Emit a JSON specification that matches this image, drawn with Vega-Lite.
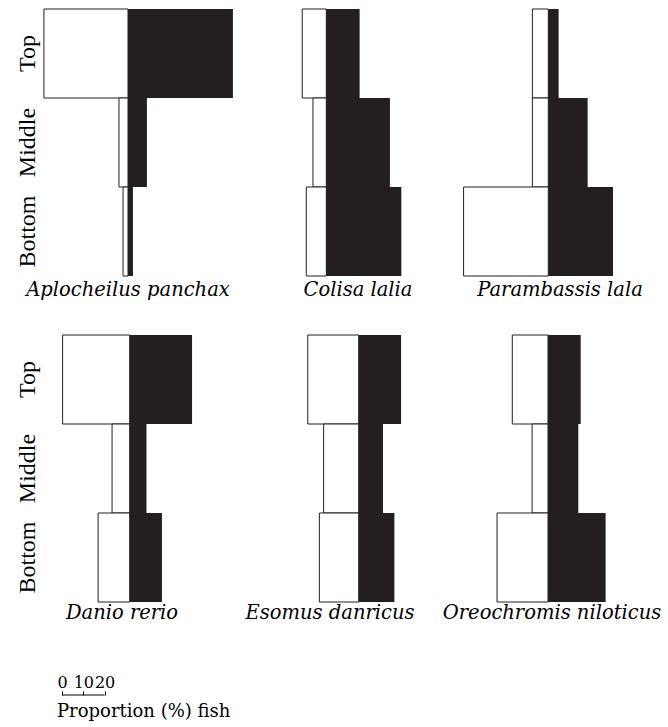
{
  "$schema": "https://vega.github.io/schema/vega-lite/v6.json",
  "padding": {"left": 14, "top": 8, "right": 2, "bottom": 2},
  "config": {
    "view": {"stroke": null},
    "title": {"font": "DejaVu Serif", "fontSize": 19.5, "fontStyle": "italic", "fontWeight": "normal", "color": "black", "offset": 4}
  },
  "datasets": {
    "fish": [
      {"species": "Aplocheilus panchax", "depth": "Top", "group": "A", "value": 39.1},
      {"species": "Aplocheilus panchax", "depth": "Top", "group": "B", "value": 48.8},
      {"species": "Aplocheilus panchax", "depth": "Middle", "group": "A", "value": 4.2},
      {"species": "Aplocheilus panchax", "depth": "Middle", "group": "B", "value": 8.8},
      {"species": "Aplocheilus panchax", "depth": "Bottom", "group": "A", "value": 2.3},
      {"species": "Aplocheilus panchax", "depth": "Bottom", "group": "B", "value": 2.3},
      {"species": "Colisa lalia", "depth": "Top", "group": "A", "value": 11.2},
      {"species": "Colisa lalia", "depth": "Top", "group": "B", "value": 15.5},
      {"species": "Colisa lalia", "depth": "Middle", "group": "A", "value": 6.2},
      {"species": "Colisa lalia", "depth": "Middle", "group": "B", "value": 29.6},
      {"species": "Colisa lalia", "depth": "Bottom", "group": "A", "value": 9.3},
      {"species": "Colisa lalia", "depth": "Bottom", "group": "B", "value": 34.9},
      {"species": "Parambassis lala", "depth": "Top", "group": "A", "value": 7.4},
      {"species": "Parambassis lala", "depth": "Top", "group": "B", "value": 4.8},
      {"species": "Parambassis lala", "depth": "Middle", "group": "A", "value": 7.4},
      {"species": "Parambassis lala", "depth": "Middle", "group": "B", "value": 18.3},
      {"species": "Parambassis lala", "depth": "Bottom", "group": "A", "value": 39.4},
      {"species": "Parambassis lala", "depth": "Bottom", "group": "B", "value": 30.1},
      {"species": "Danio rerio", "depth": "Top", "group": "A", "value": 31.2},
      {"species": "Danio rerio", "depth": "Top", "group": "B", "value": 29.0},
      {"species": "Danio rerio", "depth": "Middle", "group": "A", "value": 8.2},
      {"species": "Danio rerio", "depth": "Middle", "group": "B", "value": 7.8},
      {"species": "Danio rerio", "depth": "Bottom", "group": "A", "value": 14.7},
      {"species": "Danio rerio", "depth": "Bottom", "group": "B", "value": 15.0},
      {"species": "Esomus danricus", "depth": "Top", "group": "A", "value": 23.7},
      {"species": "Esomus danricus", "depth": "Top", "group": "B", "value": 19.7},
      {"species": "Esomus danricus", "depth": "Middle", "group": "A", "value": 16.3},
      {"species": "Esomus danricus", "depth": "Middle", "group": "B", "value": 11.3},
      {"species": "Esomus danricus", "depth": "Bottom", "group": "A", "value": 18.3},
      {"species": "Esomus danricus", "depth": "Bottom", "group": "B", "value": 16.6},
      {"species": "Oreochromis niloticus", "depth": "Top", "group": "A", "value": 16.6},
      {"species": "Oreochromis niloticus", "depth": "Top", "group": "B", "value": 15.2},
      {"species": "Oreochromis niloticus", "depth": "Middle", "group": "A", "value": 7.4},
      {"species": "Oreochromis niloticus", "depth": "Middle", "group": "B", "value": 14.1},
      {"species": "Oreochromis niloticus", "depth": "Bottom", "group": "A", "value": 23.7},
      {"species": "Oreochromis niloticus", "depth": "Bottom", "group": "B", "value": 26.8}
    ]
  },
  "spacing": 52,
  "vconcat": [
    {
      "data": {"name": "fish"},
      "spacing": 35,
      "vconcat": [
        {
          "spacing": 0,
          "hconcat": [
            {
              "width": 204, "height": 267,
              "title": {"text": "Aplocheilus panchax", "orient": "bottom", "dx": -12},
              "transform": [{"filter": "datum.species === 'Aplocheilus panchax'"}],
              "encoding": {"y": {"field": "depth", "type": "nominal", "sort": ["Top", "Middle", "Bottom"], "scale": {"paddingInner": 0, "paddingOuter": 0},
                "axis": {"title": null, "domain": false, "ticks": false, "labelAngle": -90, "labelAlign": "center", "labelBaseline": "alphabetic", "labelPadding": 4, "labelFontSize": 24, "labelFont": "Times", "labelColor": "black"}}},
              "layer": [
                {"transform": [{"filter": "datum.group === 'A'"}], "mark": {"type": "bar", "fill": "white", "stroke": "#231f20", "strokeWidth": 1},
                 "encoding": {"x": {"field": "value", "type": "quantitative", "scale": {"domain": [0, 100], "range": [90, -125], "nice": false}, "axis": null}, "x2": {"datum": 0}}},
                {"transform": [{"filter": "datum.group === 'B'"}], "mark": {"type": "bar", "fill": "#231f20"},
                 "encoding": {"x": {"field": "value", "type": "quantitative", "scale": {"domain": [0, 100], "range": [90, 305], "nice": false}, "axis": null}, "x2": {"datum": 0}}}
              ],
              "resolve": {"scale": {"x": "independent"}}
            },
            {
              "width": 200, "height": 267,
              "title": {"text": "Colisa lalia", "orient": "bottom", "dx": 16},
              "transform": [{"filter": "datum.species === 'Colisa lalia'"}],
              "encoding": {"y": {"field": "depth", "type": "nominal", "sort": ["Top", "Middle", "Bottom"], "scale": {"paddingInner": 0, "paddingOuter": 0}, "axis": null}},
              "layer": [
                {"transform": [{"filter": "datum.group === 'A'"}], "mark": {"type": "bar", "fill": "white", "stroke": "#231f20", "strokeWidth": 1},
                 "encoding": {"x": {"field": "value", "type": "quantitative", "scale": {"domain": [0, 100], "range": [84.3, -130.7], "nice": false}, "axis": null}, "x2": {"datum": 0}}},
                {"transform": [{"filter": "datum.group === 'B'"}], "mark": {"type": "bar", "fill": "#231f20"},
                 "encoding": {"x": {"field": "value", "type": "quantitative", "scale": {"domain": [0, 100], "range": [84.3, 299.3], "nice": false}, "axis": null}, "x2": {"datum": 0}}}
              ],
              "resolve": {"scale": {"x": "independent"}}
            },
            {
              "width": 220, "height": 267,
              "title": {"text": "Parambassis lala", "orient": "bottom", "dx": 8},
              "transform": [{"filter": "datum.species === 'Parambassis lala'"}],
              "encoding": {"y": {"field": "depth", "type": "nominal", "sort": ["Top", "Middle", "Bottom"], "scale": {"paddingInner": 0, "paddingOuter": 0}, "axis": null}},
              "layer": [
                {"transform": [{"filter": "datum.group === 'A'"}], "mark": {"type": "bar", "fill": "white", "stroke": "#231f20", "strokeWidth": 1},
                 "encoding": {"x": {"field": "value", "type": "quantitative", "scale": {"domain": [0, 100], "range": [106.3, -108.7], "nice": false}, "axis": null}, "x2": {"datum": 0}}},
                {"transform": [{"filter": "datum.group === 'B'"}], "mark": {"type": "bar", "fill": "#231f20"},
                 "encoding": {"x": {"field": "value", "type": "quantitative", "scale": {"domain": [0, 100], "range": [106.3, 321.3], "nice": false}, "axis": null}, "x2": {"datum": 0}}}
              ],
              "resolve": {"scale": {"x": "independent"}}
            }
          ]
        },
        {
          "spacing": 0,
          "hconcat": [
            {
              "width": 204, "height": 267,
              "title": {"text": "Danio rerio", "orient": "bottom", "dx": -18, "offset": 1},
              "transform": [{"filter": "datum.species === 'Danio rerio'"}],
              "encoding": {"y": {"field": "depth", "type": "nominal", "sort": ["Top", "Middle", "Bottom"], "scale": {"paddingInner": 0, "paddingOuter": 0},
                "axis": {"title": null, "domain": false, "ticks": false, "labelAngle": -90, "labelAlign": "center", "labelBaseline": "alphabetic", "labelPadding": 4, "labelFontSize": 24, "labelFont": "Times", "labelColor": "black"}}},
              "layer": [
                {"transform": [{"filter": "datum.group === 'A'"}], "mark": {"type": "bar", "fill": "white", "stroke": "#231f20", "strokeWidth": 1},
                 "encoding": {"x": {"field": "value", "type": "quantitative", "scale": {"domain": [0, 100], "range": [91.7, -123.3], "nice": false}, "axis": null}, "x2": {"datum": 0}}},
                {"transform": [{"filter": "datum.group === 'B'"}], "mark": {"type": "bar", "fill": "#231f20"},
                 "encoding": {"x": {"field": "value", "type": "quantitative", "scale": {"domain": [0, 100], "range": [91.7, 306.7], "nice": false}, "axis": null}, "x2": {"datum": 0}}}
              ],
              "resolve": {"scale": {"x": "independent"}}
            },
            {
              "width": 200, "height": 267,
              "title": {"text": "Esomus danricus", "orient": "bottom", "dx": -12, "offset": 1},
              "transform": [{"filter": "datum.species === 'Esomus danricus'"}],
              "encoding": {"y": {"field": "depth", "type": "nominal", "sort": ["Top", "Middle", "Bottom"], "scale": {"paddingInner": 0, "paddingOuter": 0}, "axis": null}},
              "layer": [
                {"transform": [{"filter": "datum.group === 'A'"}], "mark": {"type": "bar", "fill": "white", "stroke": "#231f20", "strokeWidth": 1},
                 "encoding": {"x": {"field": "value", "type": "quantitative", "scale": {"domain": [0, 100], "range": [116.7, -98.3], "nice": false}, "axis": null}, "x2": {"datum": 0}}},
                {"transform": [{"filter": "datum.group === 'B'"}], "mark": {"type": "bar", "fill": "#231f20"},
                 "encoding": {"x": {"field": "value", "type": "quantitative", "scale": {"domain": [0, 100], "range": [116.7, 331.7], "nice": false}, "axis": null}, "x2": {"datum": 0}}}
              ],
              "resolve": {"scale": {"x": "independent"}}
            },
            {
              "width": 220, "height": 267,
              "title": {"text": "Oreochromis niloticus", "orient": "bottom", "dx": -1, "offset": 1},
              "transform": [{"filter": "datum.species === 'Oreochromis niloticus'"}],
              "encoding": {"y": {"field": "depth", "type": "nominal", "sort": ["Top", "Middle", "Bottom"], "scale": {"paddingInner": 0, "paddingOuter": 0}, "axis": null}},
              "layer": [
                {"transform": [{"filter": "datum.group === 'A'"}], "mark": {"type": "bar", "fill": "white", "stroke": "#231f20", "strokeWidth": 1},
                 "encoding": {"x": {"field": "value", "type": "quantitative", "scale": {"domain": [0, 100], "range": [105, -110], "nice": false}, "axis": null}, "x2": {"datum": 0}}},
                {"transform": [{"filter": "datum.group === 'B'"}], "mark": {"type": "bar", "fill": "#231f20"},
                 "encoding": {"x": {"field": "value", "type": "quantitative", "scale": {"domain": [0, 100], "range": [105, 320], "nice": false}, "axis": null}, "x2": {"datum": 0}}}
              ],
              "resolve": {"scale": {"x": "independent"}}
            }
          ]
        }
      ]
    },
    {
      "data": {"values": [{"start": 0, "end": 20}]},
      "width": 100, "height": 1,
      "title": {"text": "Proportion (%) fish", "orient": "bottom", "anchor": "start", "dx": 19, "offset": 7, "fontStyle": "normal", "fontSize": 18, "font": "DejaVu Serif"},
      "mark": {"type": "rule", "color": "black", "strokeWidth": 1},
      "encoding": {
        "x": {"field": "start", "type": "quantitative", "scale": {"domain": [0, 20], "range": [24, 66.6], "nice": false},
          "axis": {"orient": "top", "values": [0, 10, 20], "title": null, "domain": false, "grid": false, "tickSize": 4, "tickColor": "black", "labelPadding": 1, "labelFontSize": 16, "labelFont": "DejaVu Serif", "labelColor": "black", "labelFlush": false, "labelOverlap": false}},
        "x2": {"field": "end"},
        "y": {"value": 0}
      }
    }
  ]
}
